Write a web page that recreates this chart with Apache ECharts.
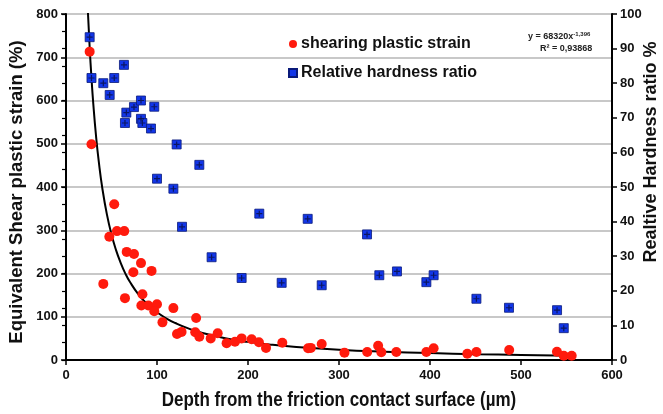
<!DOCTYPE html>
<html><head><meta charset="utf-8">
<script src="https://cdn.jsdelivr.net/npm/echarts@6/dist/echarts.min.js"></script>
<style>html,body{margin:0;padding:0;background:#fff}#c{width:663px;height:414px}</style>
</head><body><div id="c"></div>
<script>
// Shearing plastic strain: depth (µm), strain (%)
var strainDepth = [26,28,53,47.6,56,64,41,66.7,74.7,82.4,74,94,64.8,84,82.8,90.5,100,97,118,106,143,122,127,142,146.5,166.7,159,176.5,185.7,193,204,212,219.8,237.7,266,269,281,306,331,343,346.5,363,396,404,441,451,487,539.5,547,555.7];
var strainVal   = [713,499,360,285,298,298,176,250,245,224,203,206,143,152,126,126,129,113,120,87,97,60,65,64,54,62,50,39,42,50,48,41,28,40,27,28,37,17,18.5,33,18,18.5,18.5,27,14.6,18.5,23,19,10,10];
// Relative hardness ratio: depth (µm), ratio (%)
var hardDepth = [26,28,41,53,48,63.7,66.3,64.8,74.7,82.4,97,82.4,83.9,93.4,121.6,146.5,100,118,127.5,160,193,212.4,237,265.6,281,330.8,344.3,363.7,396,404,451,486.8,539.6,547];
var hardVal   = [93.3,81.5,80,81.5,76.6,85.3,71.5,68.5,73.1,75,73.2,69.7,68.5,66.9,62.3,56.4,52.4,49.5,38.5,29.7,23.7,42.3,22.3,40.8,21.6,36.3,24.5,25.6,22.5,24.5,17.7,15.1,14.4,9.2];
// Power trendline as drawn
var trendX = [24,26,28,30,33,36,40,45,50,55,60,65,70,80,90,100,110,120,135,150,175,200,225,250,300,350,400,450,500,556];
var trendY = [808,723,652,592,518,459,396,336,290,254,225,201,181.5,150.6,127.7,110.3,96.5,85.6,72.5,62.6,50.5,41.9,35.5,30.7,23.8,19.2,15.9,13.5,11.7,10.1];
var xTicks = [0,600,100];
var leftTicks = [0,800,100];
var leftMinorStep = 40;
var rightTicks = [0,100,10];
var seriesNames = ['shearing plastic strain','Relative hardness ratio'];
var eqLine1 = 'y = 68320x';
var eqExp = '-1,396';
var eqLine2 = 'R² = 0,93868';
var xTitle = 'Depth from the friction contact surface (µm)';
var leftTitle = 'Equivalent Shear plastic strain (%)';
var rightTitle = 'Realtive Hardness ratio %';

function zip(a,b){var r=[];for(var i=0;i<a.length;i++)r.push([a[i],b[i]]);return r;}

var FONT = '"Liberation Sans", Arial, sans-serif';
var chart = echarts.init(document.getElementById('c'), null, {renderer:'canvas'});
var axisLbl = {color:'#111', fontWeight:'bold', fontSize:13, fontFamily:FONT};
var option = {
  animation:false,
  backgroundColor:'#fff',
  grid:{left:66, right:51, top:14, bottom:54},
  legend:{
    orient:'vertical', left:283, top:31, itemGap:13, itemWidth:8, itemHeight:8,
    data:[{name:seriesNames[0], icon:'circle'},{name:seriesNames[1], icon:'rect'}],
    textStyle:{color:'#111', fontWeight:'bold', fontSize:16, fontFamily:FONT, padding:[0,0,0,-1]}
  },
  xAxis:{
    type:'value', min:xTicks[0], max:xTicks[1], interval:xTicks[2],
    axisLine:{lineStyle:{color:'#000', width:2}},
    axisTick:{show:true, length:5, lineStyle:{color:'#000', width:1.5}},
    axisLabel:Object.assign({margin:9}, axisLbl),
    splitLine:{show:false}
  },
  yAxis:[{
    type:'value', min:leftTicks[0], max:leftTicks[1], interval:leftTicks[2],
    axisLine:{show:true, lineStyle:{color:'#000', width:2}},
    axisTick:{show:true, length:5, lineStyle:{color:'#000', width:1.5}},
    axisLabel:Object.assign({margin:8}, axisLbl),
    splitLine:{show:true, lineStyle:{color:'#c8c8c8', width:2}}
  },{
    type:'value', min:rightTicks[0], max:rightTicks[1], interval:rightTicks[2], position:'right',
    axisLine:{show:true, lineStyle:{color:'#000', width:2}},
    axisTick:{show:true, length:5, lineStyle:{color:'#000', width:1.5}},
    axisLabel:Object.assign({margin:8}, axisLbl),
    splitLine:{show:false}
  },{
    type:'value', min:leftTicks[0], max:leftTicks[1], interval:leftMinorStep, position:'left',
    axisLine:{show:false}, axisLabel:{show:false}, splitLine:{show:false},
    axisTick:{show:true, length:4, lineStyle:{color:'#000', width:1.2}}
  }],
  graphic:[
    {type:'text', left:528, top:31, z:10, style:{
      text:'{a|'+eqLine1+'}{s|'+eqExp+'}', rich:{
        a:{fontSize:9, fontWeight:'bold', fontFamily:FONT, fill:'#222'},
        s:{fontSize:6, fontWeight:'bold', fontFamily:FONT, fill:'#222', verticalAlign:'top', padding:[0,0,6,0]}
      }}},
    {type:'text', left:540, top:44, z:10, style:{text:eqLine2, fontSize:9, fontWeight:'bold', fontFamily:FONT, fill:'#222'}},
    {type:'text', x:339, y:401, scaleY:1.15, z:10, style:{text:xTitle, fontSize:17, fontWeight:'bold', fontFamily:FONT, fill:'#111', align:'center', verticalAlign:'middle'}},
    {type:'text', x:17, y:192, rotation:Math.PI/2, z:10, style:{text:leftTitle, fontSize:18.5, fontWeight:'bold', fontFamily:FONT, fill:'#111', align:'center', verticalAlign:'middle'}},
    {type:'text', x:651, y:152, rotation:Math.PI/2, z:10, style:{text:rightTitle, fontSize:18, fontWeight:'bold', fontFamily:FONT, fill:'#111', align:'center', verticalAlign:'middle'}}
  ],
  series:[
    {
      name:'trend', type:'line', xAxisIndex:0, yAxisIndex:0, data:zip(trendX,trendY),
      showSymbol:false, symbol:'none', lineStyle:{color:'#000', width:2}, smooth:true, z:3, clip:true, silent:true
    },
    {
      name:seriesNames[0], type:'scatter', yAxisIndex:0, data:zip(strainDepth,strainVal),
      symbol:'circle', symbolSize:10, itemStyle:{color:'#ff1a0d', opacity:1}, z:4
    },
    {
      name:seriesNames[1], type:'scatter', yAxisIndex:1, data:zip(hardDepth,hardVal),
      symbol:'rect', symbolSize:9, itemStyle:{color:'#1236e8', borderColor:'#0a1a7a', borderWidth:0.8, opacity:1}, z:5
    },
    {
      name:'cross', type:'scatter', yAxisIndex:1, data:zip(hardDepth,hardVal),
      symbol:'path://M4,0H6V4H10V6H6V10H4V6H0V4H4Z', symbolSize:6, itemStyle:{color:'#0a0f40'}, z:6, silent:true
    }
  ]
};
chart.setOption(option);
</script>
</body></html>
